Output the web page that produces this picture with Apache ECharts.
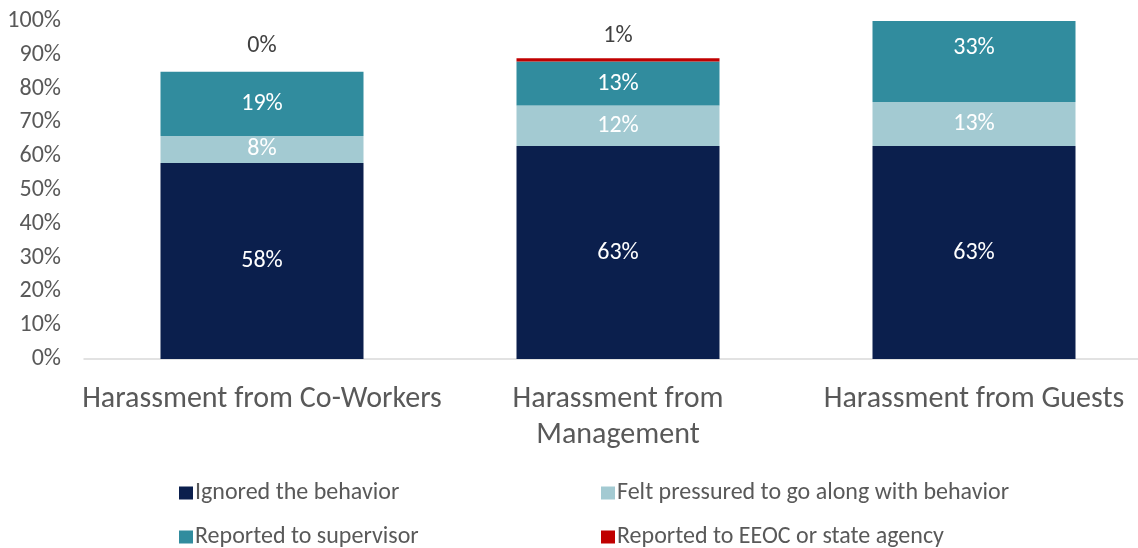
<!DOCTYPE html>
<html>
<head>
<meta charset="utf-8">
<script src="https://cdn.jsdelivr.net/npm/echarts@6/dist/echarts.min.js"></script>
<style>
  html, body { margin: 0; padding: 0; background: #fff; overflow: hidden; }
  /* plot area runs a bit past the right edge in the original, so the div is wider than the window */
  #main { width: 1152px; height: 548px; }
</style>
</head>
<body>
<div id="main"></div>
<script>
// data
const categories = ['Harassment from Co-Workers', 'Harassment from\nManagement', 'Harassment from Guests'];
const ignored = [58, 63, 63];
const pressured = [8, 12, 13];
const supervisor = [19, 13, 33];
const eeoc = [0, 1, null];
const yTicks = [0, 10, 20, 30, 40, 50, 60, 70, 80, 90, 100];

const seriesNames = [
    'Ignored the behavior',
    'Felt pressured to go along with behavior',
    'Reported to supervisor',
    'Reported to EEOC or state agency'
];
const colors = ['#0B1F4D', '#A3CAD2', '#318C9E', '#C00000'];
const font = 'Calibri, Carlito, "Open Sans", sans-serif';

const chart = echarts.init(document.getElementById('main'));

function inLabel() {
    return {
        show: true,
        position: 'inside',
        color: '#ffffff',
        fontSize: 24,
        fontFamily: font,
        formatter: function (p) { return p.value + '%'; }
    };
}

function makeBar(i, values, label) {
    return {
        name: seriesNames[i],
        type: 'bar',
        stack: 'total',
        barWidth: 203,
        data: values,
        itemStyle: { color: colors[i] },
        label: label
    };
}

const legendPos = [
    { left: 174, top: 476 },
    { left: 596, top: 476 },
    { left: 174, top: 520 },
    { left: 596, top: 520 }
];

chart.setOption({
    animation: false,
    textStyle: { fontFamily: font },
    grid: { left: 84, right: 0, top: 21, bottom: 189 },
    legend: legendPos.map(function (p, i) {
        return {
            data: [seriesNames[i]],
            left: p.left,
            top: p.top,
            itemWidth: 14,
            itemHeight: 13,
            itemGap: 4,
            icon: 'rect',
            textStyle: { fontSize: 24, color: '#595959', fontFamily: font, padding: [0, 0, 0, -3] },
            selectedMode: false
        };
    }),
    xAxis: {
        type: 'category',
        data: categories,
        axisLine: { lineStyle: { color: '#D9D9D9', width: 1.5 } },
        axisTick: { show: false },
        axisLabel: {
            interval: 0,
            hideOverlap: false,
            color: '#595959',
            fontSize: 30,
            fontFamily: font,
            margin: 22,
            lineHeight: 36
        }
    },
    yAxis: {
        type: 'value',
        min: 0,
        max: 100,
        interval: 10,
        axisLine: { show: false },
        axisTick: { show: false },
        splitLine: { show: false },
        axisLabel: {
            color: '#595959',
            fontSize: 24,
            fontFamily: font,
            margin: 23,
            formatter: function (v) { return yTicks.indexOf(v) >= 0 ? v + '%' : ''; }
        }
    },
    series: [
        makeBar(0, ignored, inLabel()),
        makeBar(1, pressured, inLabel()),
        makeBar(2, supervisor.map(function (v, i) {
            // the Guests bar runs past 100%; its label sits at the centre of the full bar
            return i === 2 ? { value: v, label: { offset: [0, -14] } } : v;
        }), inLabel()),
        makeBar(3, eeoc.map(function (v, i) {
            if (v === null) return v;
            return { value: v, label: { distance: i === 0 ? 14 : 10 } };
        }), {
            show: true,
            position: 'top',
            color: '#404040',
            fontSize: 24,
            fontFamily: font,
            formatter: function (p) { return p.value + '%'; }
        })
    ]
});
</script>
</body>
</html>
